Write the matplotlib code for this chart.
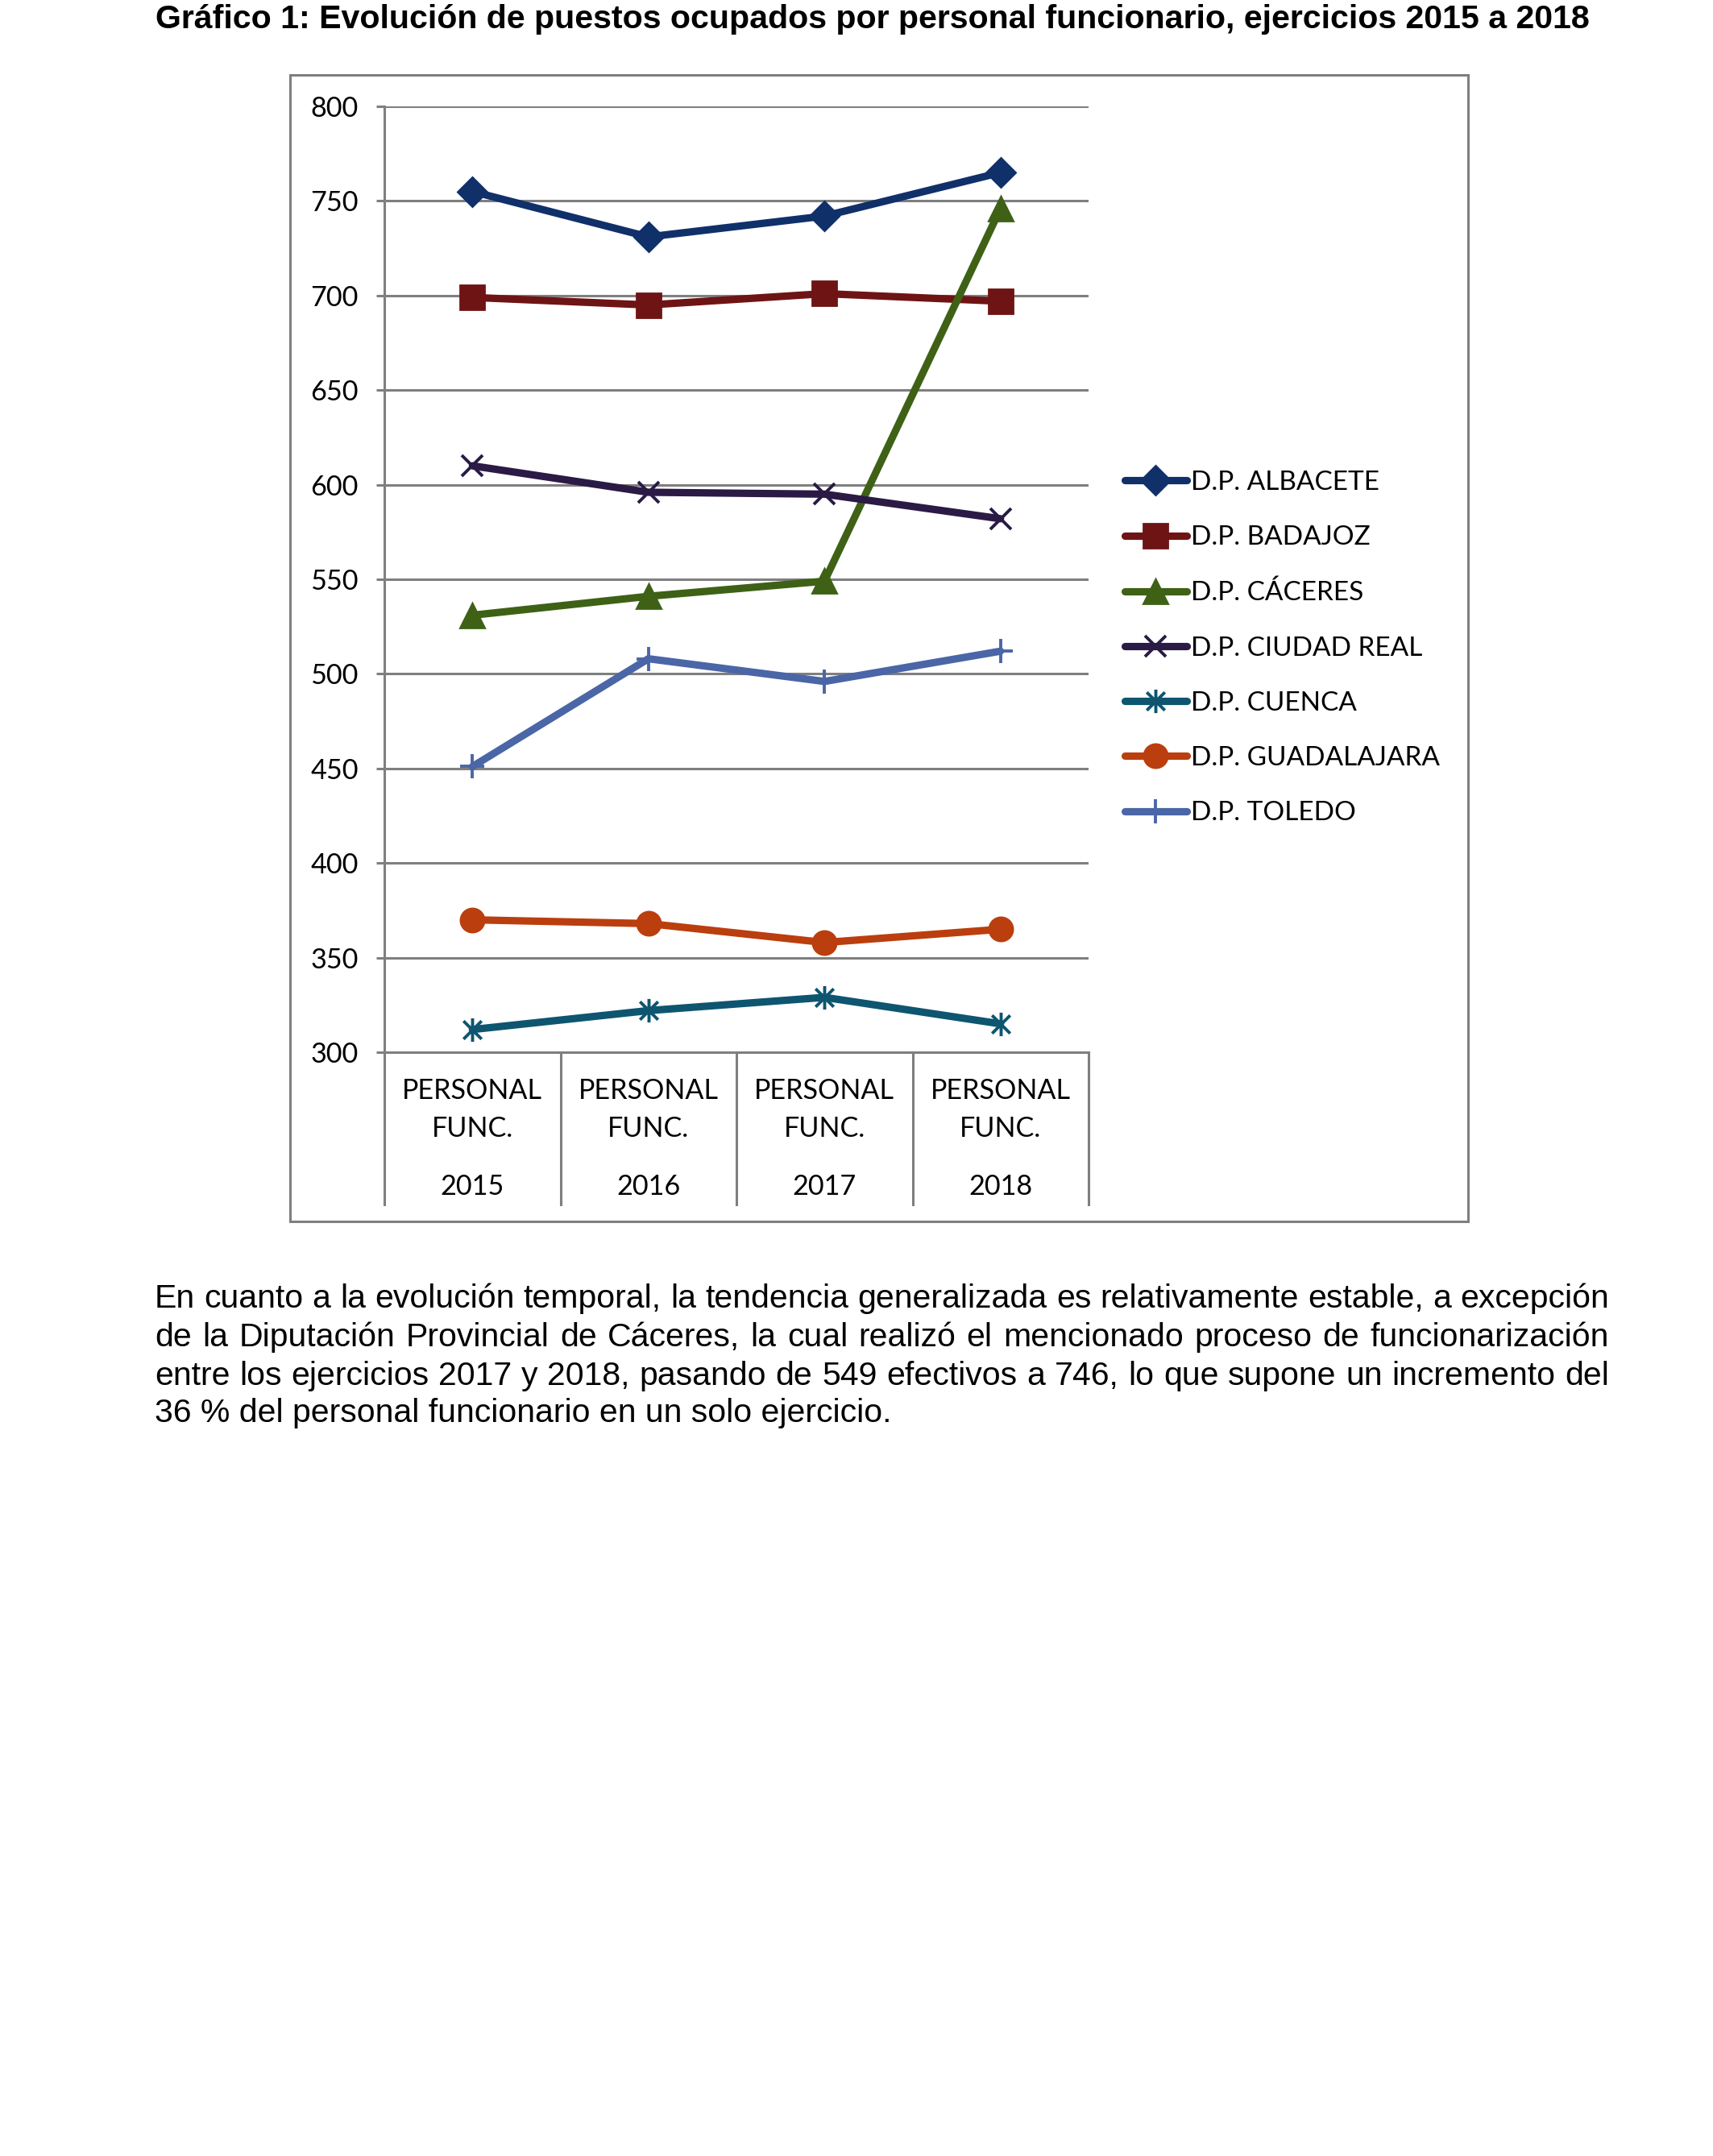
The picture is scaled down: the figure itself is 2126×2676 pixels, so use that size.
import matplotlib
matplotlib.use("Agg")
import matplotlib.pyplot as plt
from matplotlib.patches import Rectangle
from matplotlib.path import Path

# ---------------- data ----------------
categories_top = ["PERSONAL", "PERSONAL", "PERSONAL", "PERSONAL"]
categories_mid = ["FUNC.", "FUNC.", "FUNC.", "FUNC."]
years = ["2015", "2016", "2017", "2018"]

series_names = ["D.P. ALBACETE", "D.P. BADAJOZ", "D.P. CÁCERES", "D.P. CIUDAD REAL",
                "D.P. CUENCA", "D.P. GUADALAJARA", "D.P. TOLEDO"]
albacete = [755, 731, 742, 765]
badajoz = [699, 695, 701, 697]
caceres = [531, 541, 549, 746]
ciudad_real = [610, 596, 595, 582]
cuenca = [312, 322, 329, 315]
guadalajara = [370, 368, 358, 365]
toledo = [451, 508, 496, 512]
series_values = [albacete, badajoz, caceres, ciudad_real, cuenca, guadalajara, toledo]

yticks = [300, 350, 400, 450, 500, 550, 600, 650, 700, 750, 800]

title = "Gráfico 1: Evolución de puestos ocupados por personal funcionario, ejercicios 2015 a 2018"
paragraph_lines = [
    "En cuanto a la evolución temporal, la tendencia generalizada es relativamente estable, a excepción",
    "de la Diputación Provincial de Cáceres, la cual realizó el mencionado proceso de funcionarización",
    "entre los ejercicios 2017 y 2018, pasando de 549 efectivos a 746, lo que supone un incremento del",
    "36 % del personal funcionario en un solo ejercicio.",
]

# ---------------- styles ----------------
star = Path([(-1, -1), (1, 1), (-1, 1), (1, -1), (0, -1.3), (0, 1.3)],
            [Path.MOVETO, Path.LINETO, Path.MOVETO, Path.LINETO, Path.MOVETO, Path.LINETO])
colors = ["#10306A", "#6E1414", "#3E6116", "#2A1A45", "#0E5570", "#BB3E0E", "#4A66A6"]
markers = ["D", "s", "^", "x", star, "o", "+"]
msizes = [9, 10.5, 10.5, 9.5, 10.5, 10.5, 10.5]
mew = [1, 1, 1, 1.4, 1.4, 1, 1.4]

W, H = 2126, 2676
DPI = 200
fig = plt.figure(figsize=(W / DPI, H / DPI), dpi=DPI)
fig.patch.set_facecolor("white")

chart_font = "Lato"
text_font = "Liberation Sans"

def fx(px):
    return px / W

def fy(py):
    return 1 - py / H

# outer frame
fig.patches.append(Rectangle((fx(360), fy(1516)), fx(1822) - fx(360), fy(93) - fy(1516),
                             transform=fig.transFigure, fill=False, edgecolor="#7f7f7f",
                             linewidth=1.1, zorder=0))

ax = fig.add_axes([fx(477), fy(1306), fx(1351) - fx(477), fy(132) - fy(1306)])
x = list(range(len(years)))
for vals, name, c, m, ms, mw in zip(series_values, series_names, colors, markers, msizes, mew):
    ax.plot(x, vals, color=c, linewidth=3.3, marker=m, markersize=ms, markeredgewidth=mw,
            markerfacecolor=c, markeredgecolor=c, label=name, zorder=3,
            solid_capstyle="round", clip_on=False)

ax.set_xlim(-0.5, 3.5)
ax.set_ylim(300, 800)
ax.set_yticks(yticks)
ax.set_yticklabels([str(t) for t in yticks], fontfamily=chart_font, fontsize=12.3)
ax.yaxis.grid(True, color="#7f7f7f", linewidth=1.1)
ax.set_axisbelow(True)
ax.tick_params(axis="y", length=3.6, width=1.1, color="#7f7f7f", pad=8)
ax.tick_params(axis="x", length=0, labelbottom=False)
for s in ["top", "right"]:
    ax.spines[s].set_visible(False)
for s in ["left", "bottom"]:
    ax.spines[s].set_color("#7f7f7f")
    ax.spines[s].set_linewidth(1.1)

# category separators and labels
bottom_ext = (1306 - 1495) / (1306 - 132)
for b in [-0.5, 0.5, 1.5, 2.5, 3.5]:
    ax.plot([b, b], [0, bottom_ext], transform=ax.get_xaxis_transform(), color="#7f7f7f",
            linewidth=1.1, clip_on=False)
ytop = (1306 - 1354) / (1306 - 132)
ymid = (1306 - 1401) / (1306 - 132)
yyr = (1306 - 1473) / (1306 - 132)
for i in x:
    ax.text(i, ytop, categories_top[i], transform=ax.get_xaxis_transform(), ha="center",
            va="center", fontfamily=chart_font, fontsize=12.3)
    ax.text(i, ymid, categories_mid[i], transform=ax.get_xaxis_transform(), ha="center",
            va="center", fontfamily=chart_font, fontsize=12.3)
    ax.text(i, yyr, years[i], transform=ax.get_xaxis_transform(), ha="center",
            va="center", fontfamily=chart_font, fontsize=12.3)

# legend
leg = fig.legend(loc="upper left", bbox_to_anchor=(fx(1396), fy(584)), frameon=False,
                 prop={"family": chart_font, "size": 12.0}, handlelength=2.3,
                 handletextpad=0.15, labelspacing=1.15, borderaxespad=0, borderpad=0)

# title
fig.text(fx(1083), fy(24), title, ha="center", va="center", fontfamily=text_font,
         fontweight="bold", fontsize=14.8)

# justified paragraph
renderer = fig.canvas.get_renderer()
left_px, right_px = 192, 1997
line_y = [1612, 1660, 1708, 1754]
fs = 14.75
for li, (line, ypx) in enumerate(zip(paragraph_lines, line_y)):
    words = line.split(" ")
    if li == len(paragraph_lines) - 1:
        fig.text(fx(left_px), fy(ypx), line, ha="left", va="center",
                 fontfamily=text_font, fontsize=fs)
        continue
    widths = []
    for w_ in words:
        t = fig.text(0, 0, w_, fontfamily=text_font, fontsize=fs)
        widths.append(t.get_window_extent(renderer).width)
        t.remove()
    gap = (right_px - left_px - sum(widths)) / (len(words) - 1)
    xp = left_px
    for w_, wd in zip(words, widths):
        fig.text(fx(xp), fy(ypx), w_, ha="left", va="center",
                 fontfamily=text_font, fontsize=fs)
        xp += wd + gap

fig.savefig("out.png", dpi=DPI, facecolor="white")
